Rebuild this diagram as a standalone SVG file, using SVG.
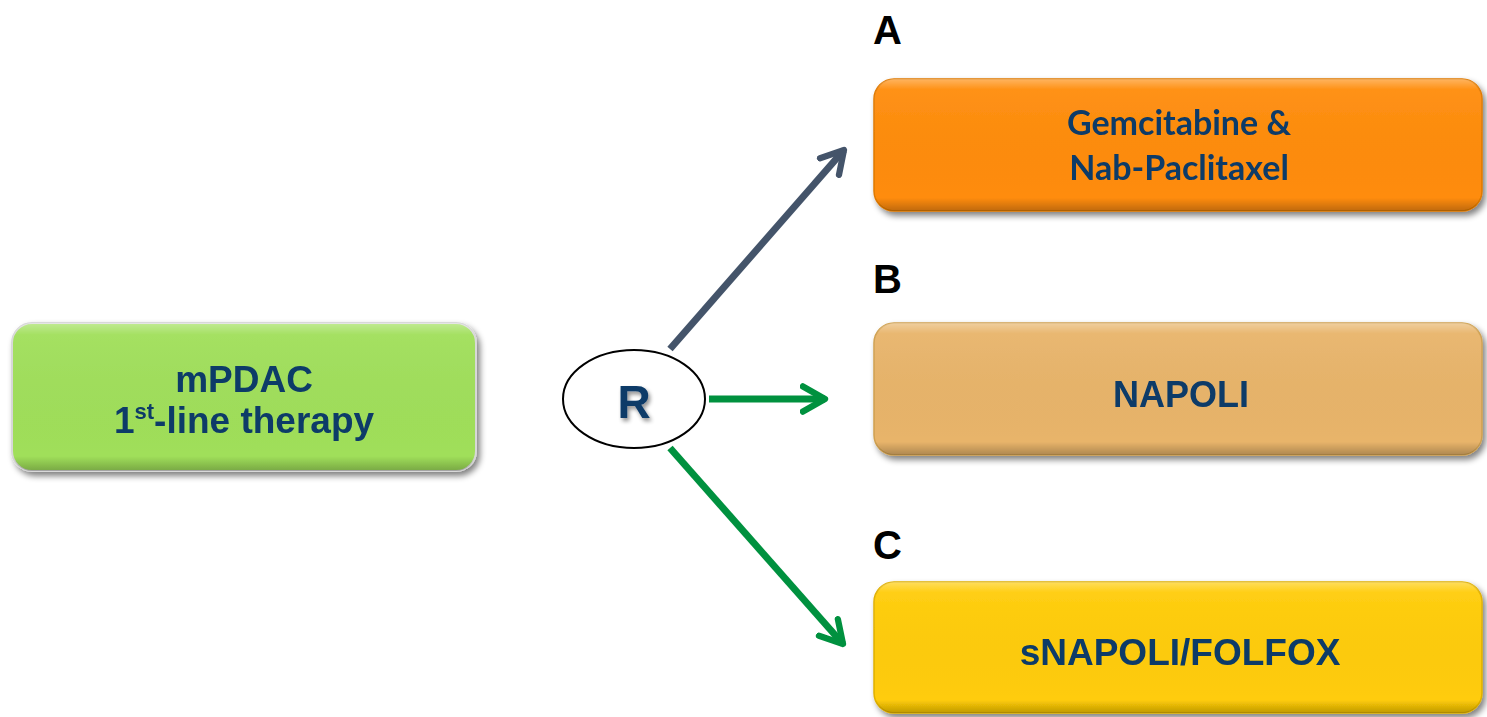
<svg xmlns="http://www.w3.org/2000/svg" width="1487" height="717" viewBox="0 0 1487 717">
<style>
.lbl{font-family:"Liberation Sans",Arial,sans-serif;font-weight:bold;fill:#000;font-size:40px}
.t{font-family:"Liberation Sans",Arial,sans-serif;font-weight:bold;fill:#0B3A68;text-anchor:middle}
.tc{font-family:Lato,"Liberation Sans",sans-serif;font-weight:bold;fill:#0B3A68;text-anchor:middle}
.bevel{fill:url(#bev)}
</style>
<defs>
<filter id="sh" x="-5%" y="-10%" width="112%" height="130%">
<feGaussianBlur in="SourceAlpha" stdDeviation="3"/>
<feOffset dx="3" dy="4"/>
<feComponentTransfer><feFuncA type="linear" slope="0.5"/></feComponentTransfer>
<feMerge><feMergeNode/><feMergeNode in="SourceGraphic"/></feMerge>
</filter>
<filter id="tsh" x="-20%" y="-20%" width="150%" height="150%">
<feGaussianBlur in="SourceAlpha" stdDeviation="2"/>
<feOffset dx="2" dy="3"/>
<feComponentTransfer><feFuncA type="linear" slope="0.45"/></feComponentTransfer>
<feMerge><feMergeNode/><feMergeNode in="SourceGraphic"/></feMerge>
</filter>
<linearGradient id="bev" x1="0" y1="0" x2="0" y2="1">
<stop offset="0" stop-color="#fff" stop-opacity="0.35"/>
<stop offset="0.08" stop-color="#fff" stop-opacity="0.05"/>
<stop offset="0.9" stop-color="#000" stop-opacity="0"/>
<stop offset="1" stop-color="#000" stop-opacity="0.25"/>
</linearGradient>
<marker id="ahG" viewBox="0 0 10 10" refX="8" refY="5" markerWidth="4.5" markerHeight="4.5" orient="auto" markerUnits="strokeWidth">
<path d="M1,1 L8,5 L1,9" fill="none" stroke="#00913F" stroke-width="2" stroke-linecap="round" stroke-linejoin="round"/>
</marker>
<marker id="ahB" viewBox="0 0 10 10" refX="8" refY="5" markerWidth="4.5" markerHeight="4.5" orient="auto" markerUnits="strokeWidth">
<path d="M1,1 L8,5 L1,9" fill="none" stroke="#44546A" stroke-width="2" stroke-linecap="round" stroke-linejoin="round"/>
</marker>
</defs>
<rect width="1487" height="717" fill="#fff"/>

<g id="connectors" stroke-width="7" fill="none">
<line x1="670" y1="349" x2="844" y2="150" stroke="#44546A" marker-end="url(#ahB)"/>
<line x1="709" y1="399" x2="825" y2="399" stroke="#00913F" marker-end="url(#ahG)"/>
<line x1="670" y1="448" x2="843" y2="644" stroke="#00913F" marker-end="url(#ahG)"/>
</g>

<g id="node-start" filter="url(#sh)">
<rect x="12" y="323" width="464" height="148" rx="20" fill="#A0DF5A" stroke="#D8D8D8" stroke-width="2"/>
<rect x="12" y="323" width="464" height="148" rx="20" class="bevel"/>
<text class="t" x="244" y="392" font-size="37">mPDAC</text>
<text class="t" x="244" y="433" font-size="37">1<tspan font-size="22" dy="-14">st</tspan><tspan dy="14">-line therapy</tspan></text>
</g>

<g id="node-R">
<ellipse cx="634" cy="399" rx="71" ry="49" fill="#fff" stroke="#000" stroke-width="2"/>
<text class="t" x="634" y="418" font-size="46" filter="url(#tsh)">R</text>
</g>

<g id="label-A"><text class="lbl" x="873" y="44">A</text></g>
<g id="label-B"><text class="lbl" x="873" y="293">B</text></g>
<g id="label-C"><text class="lbl" x="873" y="559">C</text></g>

<g id="node-A" filter="url(#sh)">
<rect x="874" y="79" width="608" height="132" rx="20" fill="#FF8C0A" stroke="#E07A00" stroke-width="1.5"/>
<rect x="874" y="79" width="608" height="132" rx="20" class="bevel"/>
<text class="tc" x="1179" y="135" font-size="34">Gemcitabine &amp;</text>
<text class="tc" x="1179" y="180" font-size="34">Nab-Paclitaxel</text>
</g>

<g id="node-B" filter="url(#sh)">
<rect x="874" y="323" width="608" height="132" rx="20" fill="#E8B46A" stroke="#CFA050" stroke-width="1.5"/>
<rect x="874" y="323" width="608" height="132" rx="20" class="bevel"/>
<text class="t" x="1181" y="407" font-size="36">NAPOLI</text>
</g>

<g id="node-C" filter="url(#sh)">
<rect x="874" y="582" width="608" height="131" rx="20" fill="#FFCC07" stroke="#E0B000" stroke-width="1.5"/>
<rect x="874" y="582" width="608" height="131" rx="20" class="bevel"/>
<text class="t" x="1180" y="665" font-size="37">sNAPOLI/FOLFOX</text>
</g>
</svg>
